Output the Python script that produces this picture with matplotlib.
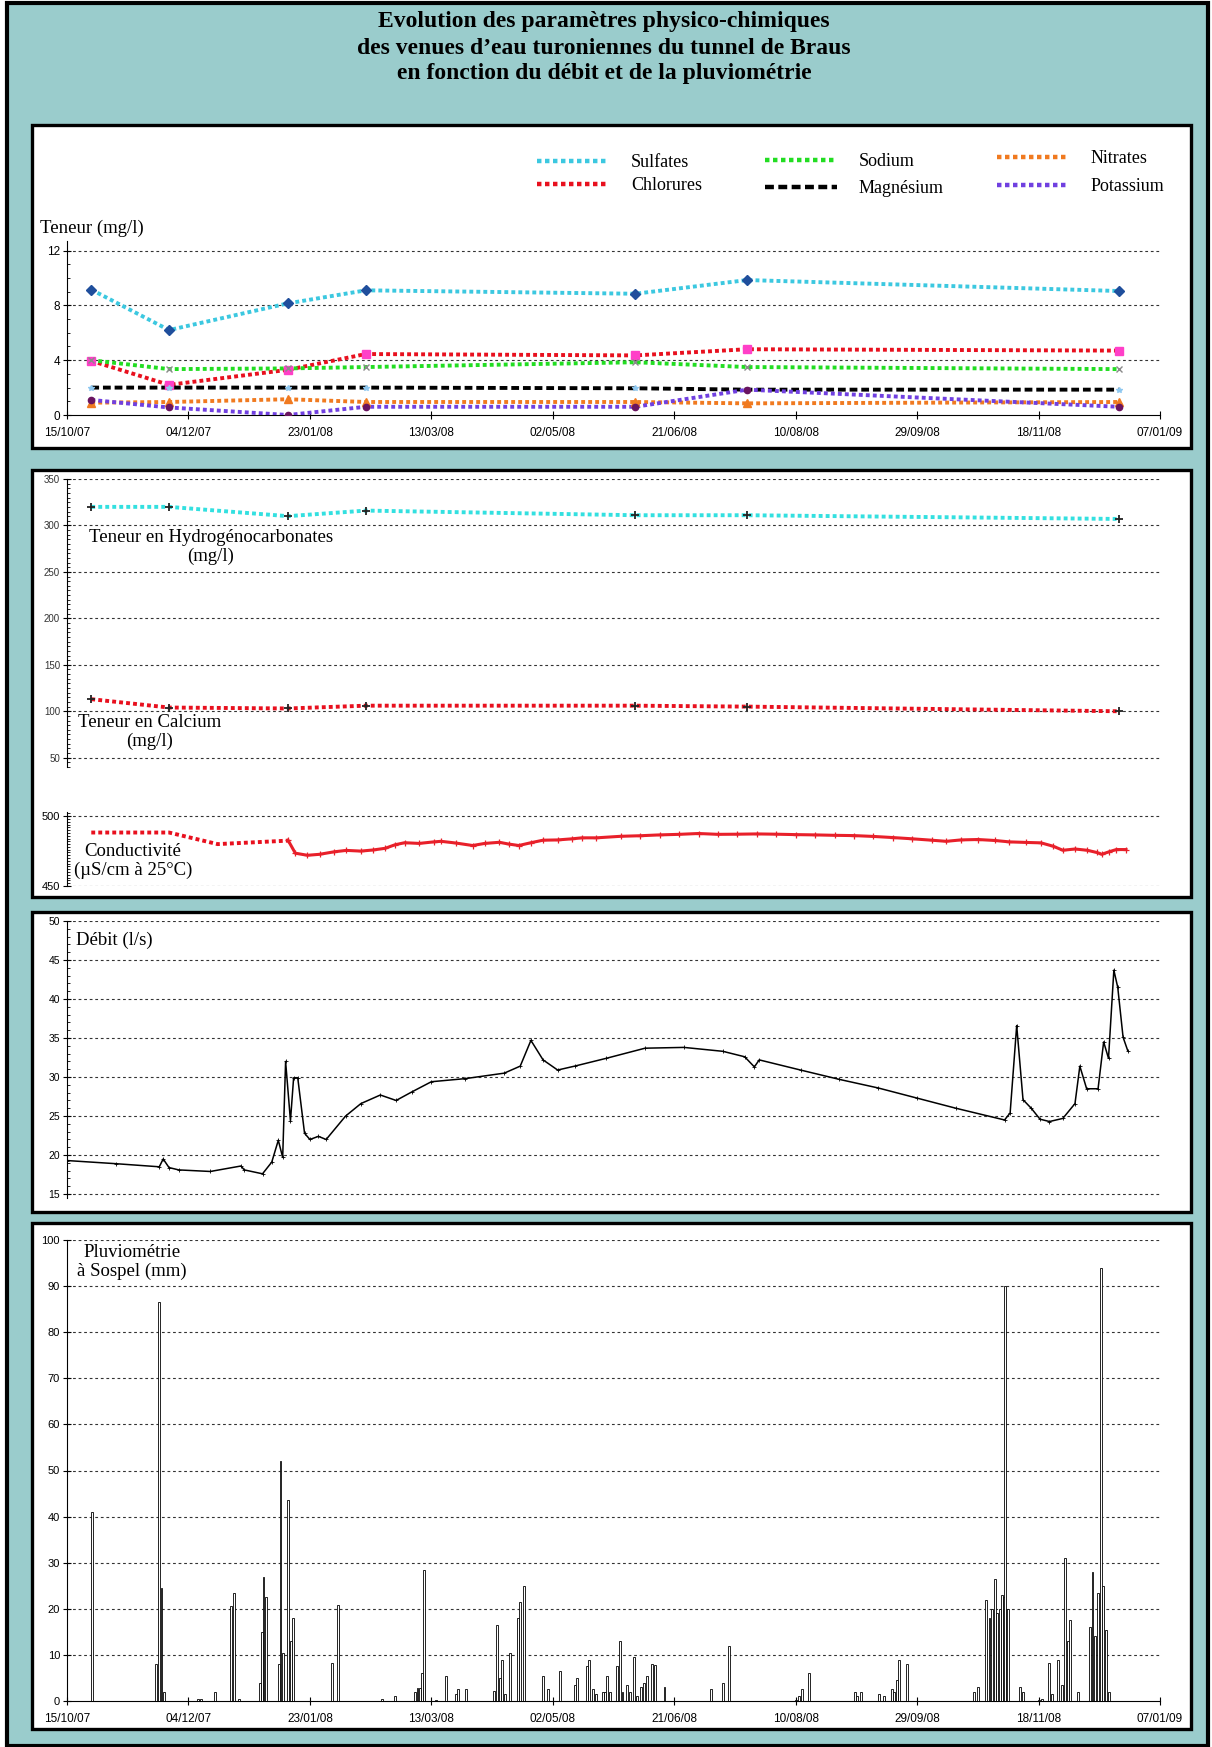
import matplotlib
matplotlib.use('Agg')
import matplotlib.pyplot as plt
import matplotlib.dates as mdates
from matplotlib.patches import Rectangle
from matplotlib.lines import Line2D
from matplotlib.ticker import MultipleLocator
import numpy as np
import pandas as pd

plt.rcParams['font.family'] = ['Liberation Sans', 'DejaVu Sans']

W, H = 1212, 1747
TEAL = '#9ACCCC'
SERIF = ['Liberation Serif', 'DejaVu Serif']

start = pd.Timestamp('2007-10-15')
tick_dates = pd.date_range(start, periods=10, freq='50D')

# chemical analyses (mg/l)
sample_dates = ['2007-10-25', '2007-11-26', '2008-01-14', '2008-02-15',
                '2008-06-05', '2008-07-21', '2008-12-21']
sulfates = [9.15, 6.2, 8.15, 9.1, 8.85, 9.85, 9.05]
chlorures = [3.95, 2.2, 3.3, 4.45, 4.35, 4.8, 4.7]
sodium = [4.0, 3.35, 3.4, 3.5, 3.85, 3.5, 3.35]
magnesium = [2.0, 2.0, 2.0, 2.0, 1.95, 1.85, 1.85]
nitrates = [0.9, 0.95, 1.15, 0.95, 0.95, 0.85, 0.95]
potassium = [1.1, 0.55, 0.0, 0.6, 0.6, 1.85, 0.6]
hco3 = [320, 320, 310, 316, 311, 311, 307]
calcium = [113, 104, 103, 106, 106, 105, 100]

# conductivity: lab values then continuous probe (days since 15/10/07)
cond_lab_day = [10, 42, 62, 91]
cond_lab = [488.3, 488.3, 480.0, 482.5]
cond_day = [91, 94, 99, 104, 110, 115, 121, 126, 131, 135, 139, 145, 151, 154, 160,
            167, 172, 178, 182, 186, 191, 196, 202, 208, 212, 218, 228, 236, 244, 252,
            260, 268, 276, 284, 292, 300, 308, 316, 324, 332, 340, 348, 356, 362, 368,
            375, 382, 388, 395, 401, 406, 410, 415, 420, 424, 426, 429, 432, 436]
cond = [482.8, 473.5, 472.0, 472.7, 474.5, 475.5, 475.0, 475.8, 477.0, 479.5, 481.0,
        480.5, 481.6, 482.0, 480.8, 479.0, 480.5, 481.3, 480.0, 479.0, 481.0, 482.8,
        483.0, 483.8, 484.5, 484.5, 485.6, 486.0, 486.6, 487.0, 487.6, 487.0, 487.1,
        487.3, 487.1, 486.8, 486.6, 486.3, 486.1, 485.5, 484.7, 483.8, 482.8, 482.0,
        483.0, 483.3, 482.6, 481.6, 481.2, 480.9, 478.5, 475.6, 476.5, 475.6, 474.0,
        472.7, 474.5, 476.1, 476.1]

# discharge (l/s)
debit_day = [0, 20, 38, 39.6, 42, 46, 59, 71.6, 73, 80.5, 84.3, 87, 88.8, 90, 92, 93.3,
             95, 97.8, 100, 103.5, 106.7, 114.7, 121, 129, 135.5, 142, 150, 164, 180,
             186.6, 191, 196, 202, 209, 222, 238, 254, 270, 279, 283, 285, 302, 318,
             334, 350, 366, 386, 388.3, 391, 393.6, 397, 400.6, 404.5, 410, 415, 417,
             419.8, 424.5, 426.8, 428.8, 431, 432.6, 434.8, 436.7]
debit = [19.3, 18.9, 18.5, 19.5, 18.4, 18.1, 17.9, 18.6, 18.1, 17.6, 19.1, 21.9, 19.7,
         32.0, 24.4, 29.9, 29.9, 22.8, 22.0, 22.4, 22.0, 25.0, 26.6, 27.7, 27.0, 28.1,
         29.4, 29.8, 30.5, 31.4, 34.7, 32.2, 30.9, 31.4, 32.4, 33.7, 33.8, 33.3, 32.6,
         31.3, 32.2, 30.9, 29.7, 28.6, 27.3, 26.0, 24.5, 25.4, 36.6, 27.1, 26.0, 24.6,
         24.3, 24.7, 26.6, 31.4, 28.5, 28.5, 34.5, 32.4, 43.7, 41.5, 35.1, 33.4]

# daily rainfall at Sospel (mm)
rain_day = [10.2, 36.6, 37.9, 38.9, 39.8, 53.9, 55.2, 60.9, 67.6, 68.8,
            71, 79.3, 80.3, 80.9, 81.9, 87.3, 87.9, 88.9, 91.1, 92.1,
            93.1, 109, 111.5, 129.7, 135, 143.4, 144.3, 145.2, 146.3, 146.9,
            152, 156, 160, 161, 164.1, 175.9, 176.9, 178.1, 179.1, 180.2,
            182.2, 185.5, 186.4, 188.3, 196, 198.2, 203, 209, 210, 214.1,
            215, 216.5, 217.8, 220.5, 221.5, 222.4, 223.4, 226.6, 227.5, 228.7,
            230.7, 231.6, 233.6, 234.8, 236.5, 237.7, 238.7, 241, 242, 246,
            265, 270.2, 272.6, 300.3, 301.5, 302.5, 305.6, 324.4, 325.1, 327,
            334.3, 336.2, 339.5, 340.5, 341.6, 342.6, 345.8, 373.5, 375, 378.5,
            379.8, 380.8, 382, 383, 384, 385, 385.6, 386.2, 386.9, 387.5,
            392.3, 393.5, 400, 401.6, 404.4, 405.6, 408, 409.6, 411, 412,
            413, 416.2, 421.3, 422.2, 423.2, 424.5, 425.7, 426.7, 427.6, 428.9]
rain = [41, 8, 86.5, 24.5, 2, 0.5, 0.5, 2, 20.5, 23.5,
        0.5, 4, 15, 27, 22.5, 8, 52, 10.5, 43.5, 13,
        18, 8.3, 20.8, 0.4, 1, 2, 2.8, 2.8, 6, 28.5,
        0.3, 5.5, 1.5, 2.5, 2.5, 2.2, 16.5, 5, 9, 1.5,
        10.5, 18, 21.5, 25, 5.5, 2.5, 6.5, 3.5, 5, 7.5,
        9, 2.5, 1.5, 2, 2, 5.5, 2, 7.5, 13, 2,
        3.5, 2, 9.5, 1, 3, 4, 5.5, 8, 7.8, 3,
        2.5, 4, 12, 0.3, 1, 2.5, 6, 2, 1, 2,
        1.5, 1, 2.5, 2, 4.5, 9, 8, 2, 3, 22,
        18, 20, 26.5, 19, 20, 23, 22.5, 90, 20, 20,
        3, 2, 0.3, 0.5, 8.3, 1.5, 9, 3.5, 31, 13,
        17.5, 2, 16, 28, 14, 23.5, 94, 25, 15.5, 2]


def days(d):
    return start + pd.to_timedelta(np.asarray(d, dtype=float), unit='D')


def box(l, t, r, b):
    return [l / W, 1 - b / H, (r - l) / W, (b - t) / H]


def ftext(x, y, s, **kw):
    fig.text(x / W, 1 - y / H, s, family=SERIF, **kw)


def panel(t, b):
    fig.add_artist(Rectangle((32 / W, 1 - b / H), (1191 - 32) / W, (b - t) / H,
                             transform=fig.transFigure, facecolor='white',
                             edgecolor='black', lw=2.4, zorder=0.5))


def make_axes(t, b, ylim, yticks, grid, minor, labelsize=8, labelcolor='black'):
    ax = fig.add_axes(box(67, t, 1160, b), zorder=1)
    ax.patch.set_visible(False)
    ax.set_xlim(start, start + pd.Timedelta(days=450))
    ax.set_ylim(*ylim)
    for s in ['top', 'right', 'bottom']:
        ax.spines[s].set_visible(False)
    ax.spines['left'].set_linewidth(0.8)
    ax.set_yticks(yticks)
    ax.yaxis.set_minor_locator(MultipleLocator(minor))
    ax.tick_params(axis='y', which='major', direction='inout', length=6, width=0.8,
                   labelsize=labelsize, labelcolor=labelcolor, pad=2)
    ax.tick_params(axis='y', which='minor', direction='in', length=2.5, width=0.6)
    ax.set_xticks([])
    for g in grid:
        ax.axhline(g, color='#333333', lw=0.8, ls=(0, (2.5, 2.5)), zorder=0)
    return ax


def date_axis(ax):
    ax.spines['bottom'].set_visible(True)
    ax.spines['bottom'].set_linewidth(0.8)
    ax.set_xticks(tick_dates)
    ax.xaxis.set_major_formatter(mdates.DateFormatter('%d/%m/%y'))
    ax.tick_params(axis='x', direction='inout', length=6, width=0.8, labelsize=8.5, pad=6)


fig = plt.figure(figsize=(W / 100, H / 100), dpi=100, facecolor='white')
fig.add_artist(Rectangle((7 / W, 1 / H), (1208 - 7) / W, (1744 - 1) / H,
                         transform=fig.transFigure, facecolor=TEAL,
                         edgecolor='black', lw=3, zorder=0))

ftext(604, 22, 'Evolution des paramètres physico-chimiques', ha='center', va='center',
      fontsize=17, fontweight='bold')
ftext(604, 48, 'des venues d\u2019eau turoniennes du tunnel de Braus', ha='center', va='center',
      fontsize=17, fontweight='bold')
ftext(604, 73, 'en fonction du débit et de la pluviométrie', ha='center', va='center',
      fontsize=17, fontweight='bold')

# ---- panel 1 : minor ions
panel(125, 448)
ax1 = make_axes(241, 415, (0, 12.7), [0, 4, 8, 12], [4, 8, 12], 1, labelsize=8.5)
date_axis(ax1)
sd = pd.to_datetime(sample_dates)
dot = (0, (1, 0.8))
series = [
    ('Sulfates', sulfates, '#3CC8E0', dot, 'D', '#1F4E9C', 5),
    ('Chlorures', chlorures, '#E8101E', dot, 's', '#FF3FC8', 5.5),
    ('Sodium', sodium, '#22DD22', dot, 'x', '#8A8A8A', 4),
    ('Magnésium', magnesium, 'black', (0, (2, 1)), '*', '#8FC8F0', 4),
    ('Nitrates', nitrates, '#F07A20', dot, '^', '#F07A20', 5.5),
    ('Potassium', potassium, '#7040E0', dot, 'o', '#6A1460', 4.5),
]
handles = {}
for name, vals, col, ls, mk, mcol, ms in series:
    ax1.plot(sd, vals, color=col, lw=2.8, ls=ls, zorder=3)
    ax1.plot(sd, vals, ls='none', marker=mk, color=mcol, ms=ms, zorder=4)
    handles[name] = Line2D([], [], color=col, lw=3.2, ls=ls, label=name)

# legend in three columns, each column its own legend box
legend_cols = [(['Sulfates', 'Chlorures'], 537, 154, 0.35),
               (['Sodium', 'Magnésium'], 765, 153, 0.55),
               (['Nitrates', 'Potassium'], 997, 150, 0.6)]
for names, lx, ly, sp in legend_cols:
    leg = ax1.legend(handles=[handles[n] for n in names], loc='upper left', frameon=False,
                     bbox_to_anchor=(lx / W, 1 - ly / H), bbox_transform=fig.transFigure,
                     prop={'family': SERIF, 'size': 13}, handlelength=4.0,
                     handletextpad=1.2, labelspacing=sp, borderpad=0, borderaxespad=0)
    ax1.add_artist(leg)
ax1.legend_ = None  # every column is already added as an artist
ftext(40, 228, 'Teneur (mg/l)', ha='left', va='center', fontsize=13.5)

# ---- panel 2 : major ions and conductivity
panel(470, 897)
ax2 = make_axes(479, 767, (40, 350), [50, 100, 150, 200, 250, 300, 350],
                [50, 100, 150, 200, 250, 300, 350], 5, labelsize=7, labelcolor='#333333')
ax2.plot(sd, hco3, color='#33E0E0', lw=2.8, ls=dot, zorder=3)
ax2.plot(sd, hco3, ls='none', marker='+', color='#222222', ms=6, mew=1.3, zorder=4)
ax2.plot(sd, calcium, color='#E8101E', lw=2.8, ls=dot, zorder=3)
ax2.plot(sd, calcium, ls='none', marker='+', color='#222222', ms=6, mew=1.3, zorder=4)
ftext(211, 547, 'Teneur en Hydrogénocarbonates\n(mg/l)', ha='center', va='center',
      fontsize=13.5, linespacing=1.15)
ftext(150, 732, 'Teneur en Calcium\n(mg/l)', ha='center', va='center',
      fontsize=13.5, linespacing=1.15)

ax2b = make_axes(812, 886, (450, 503), [450, 500], [450, 500], 2, labelsize=8)
ax2b.plot(days(cond_lab_day), cond_lab, color='#E8101E', lw=2.8, ls=dot, zorder=3)
ax2b.plot(days(cond_day), cond, color='#E8202A', lw=2.2, marker='+', ms=4,
          mew=0.9, zorder=3)
ftext(133, 861, 'Conductivité\n(µS/cm à 25°C)', ha='center', va='center',
      fontsize=13.5, linespacing=1.15)

# ---- panel 3 : discharge
panel(912, 1212)
ax3 = make_axes(921, 1198, (14.5, 50), [15, 20, 25, 30, 35, 40, 45, 50],
                [15, 20, 25, 30, 35, 40, 45, 50], 1, labelsize=7.5)
ax3.plot(days(debit_day), debit, color='black', lw=1.1, marker='+', ms=2.5, mew=0.6, zorder=3)
ftext(76, 940, 'Débit (l/s)', ha='left', va='center', fontsize=13.5)

# ---- panel 4 : rainfall
panel(1223, 1729)
ax4 = make_axes(1240, 1701, (0, 100), list(range(0, 101, 10)), list(range(10, 101, 10)),
                100, labelsize=8)
ax4.tick_params(axis='y', which='minor', length=0)
date_axis(ax4)
ax4.bar(days(rain_day), rain, width=0.8, facecolor='white', edgecolor='black',
        lw=0.6, zorder=3)
ftext(132, 1262, 'Pluviométrie\nà Sospel (mm)', ha='center', va='center',
      fontsize=13.5, linespacing=1.2)

fig.savefig('out.png', dpi=100, facecolor=fig.get_facecolor())
